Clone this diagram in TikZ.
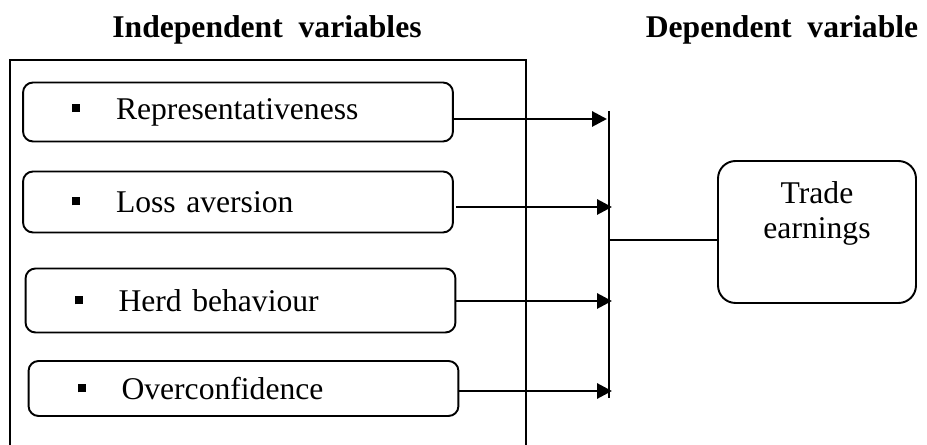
\documentclass[tikz,border=0pt]{standalone}
\usepackage{fontspec}
\setmainfont{Liberation Serif}
\usepackage{tikz}
\usetikzlibrary{positioning, arrows.meta}
\newcommand{\sqbullet}{\rule[0.14cm]{0.16cm}{0.16cm}\hspace{0.72cm}}

\begin{document}
\begin{tikzpicture}[x=0.02cm, y=-0.02cm, font=\fontsize{18}{20}\selectfont,
        ivbox/.style={draw, line width=1.1pt, rounded corners=0.2cm, minimum width=8.6cm, text width=6.64cm, inner xsep=0.98cm, align=left},
        feed/.style={line width=1.7pt, -{Triangle[length=0.3cm, width=0.3cm]}}]
        \useasboundingbox (0,0) rectangle (927,445);
        \node (IVhead) at (267,30) {\bfseries Independent~~variables};
        \node (DVhead) at (782,30) {\bfseries Dependent~~variable};
        \draw [line width=1.1pt] (10,450) -- (10,60) -- (526,60) -- (526,450);
        \node (Rep) [ivbox, minimum height=1.18cm] at (238,112) {\sqbullet Representativeness};
        \node (Loss) [ivbox, minimum height=1.22cm] at (238,202) {\sqbullet Loss aversion};
        \node (Herd) [ivbox, minimum height=1.28cm] at (240.5,300.5) {\sqbullet Herd behaviour};
        \node (Over) [ivbox, minimum height=1.10cm] at (243.5,388.5) {\sqbullet Overconfidence};
        \node (TE) [draw, line width=1.1pt, rounded corners=0.35cm, minimum width=3.96cm, minimum height=2.84cm,
            label={[anchor=north, align=center, yshift=-0.3cm]north:Trade\\earnings}] at (817,232) {};
        \coordinate (top) at (609,111);
        \coordinate (bot) at (609,398);
        \coordinate (j1) at (607,119);
        \coordinate (j2) at (612,207);
        \coordinate (j3) at (612,301);
        \coordinate (j4) at (612,391);
        \coordinate (mid) at (609,240);
        \draw [line width=0.6pt] (top) -- (bot);
        \draw [feed] (Rep.east |- j1) -- (j1);
        \draw [feed] ([xshift=0.05cm]Loss.east |- j2) -- (j2);
        \draw [feed] (Herd.east |- j3) -- (j3);
        \draw [feed] (Over.east |- j4) -- (j4);
        \draw [line width=0.6pt] (mid) -- (TE.west |- mid);
    \end{tikzpicture}
\end{document}
